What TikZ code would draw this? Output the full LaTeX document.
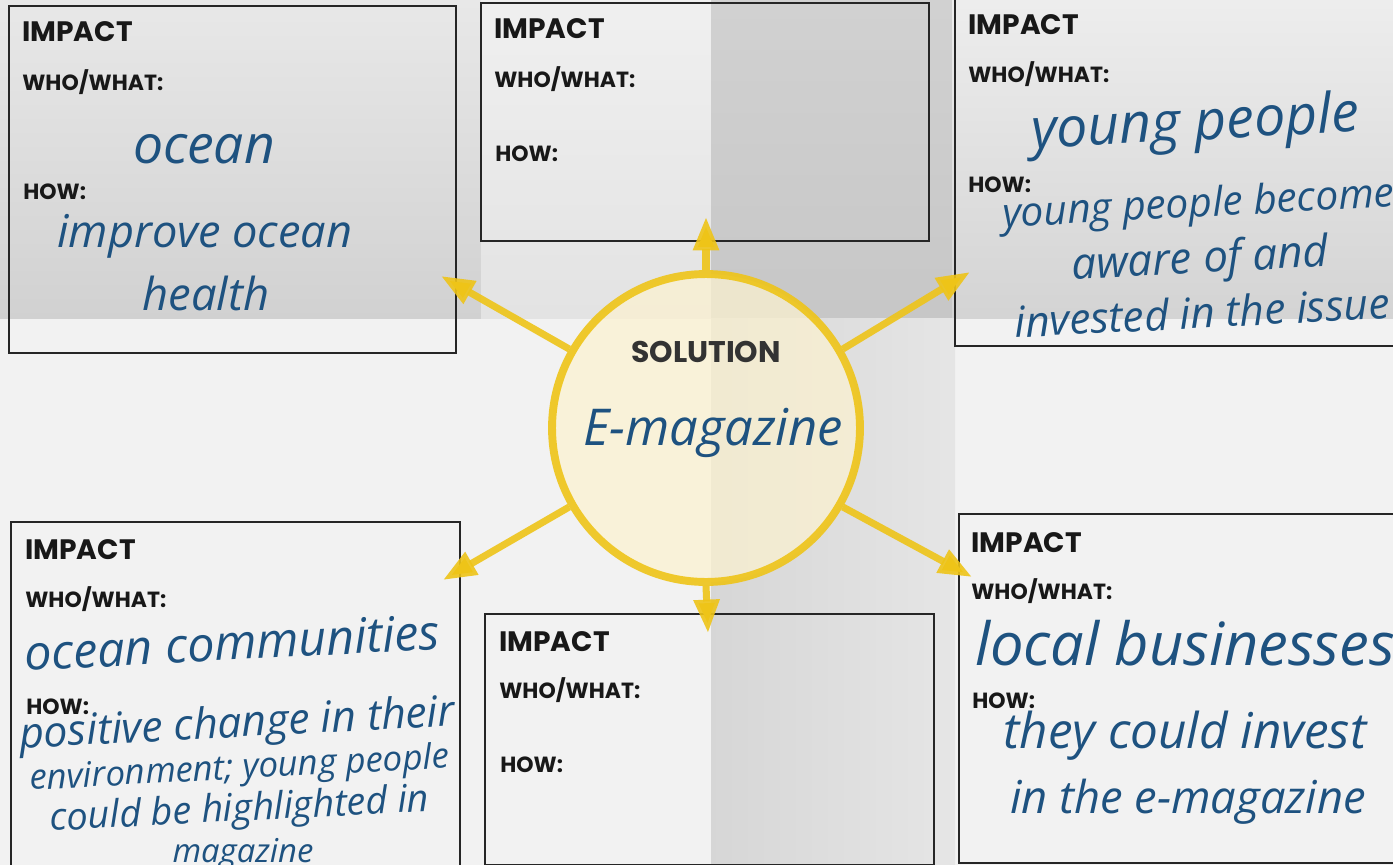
\documentclass[tikz,border=0pt]{standalone}
\usepackage{fontspec}
\setmainfont{Poppins}
\newfontfamily\handfont{Open Sans}
\usepackage{tikz}
\usetikzlibrary{positioning,arrows.meta}

\definecolor{ink}{RGB}{30,82,128}
\definecolor{gold}{RGB}{238,196,24}
\definecolor{paleyellow}{RGB}{252,242,208}
\definecolor{labelgray}{RGB}{24,24,24}

% handwritten answer, scaled to the width it takes on the sheet
\newcommand{\hw}[2]{\resizebox{#1}{!}{\handfont\itshape #2}}

\begin{document}
\begin{tikzpicture}[x=0.02cm, y=-0.02cm,
  impactbox/.style={draw=black!85, line width=1.1pt, inner sep=0, anchor=north west},
  bigtitle/.style={font=\fontsize{16}{16}\selectfont\bfseries, text=labelgray, anchor=base west, inner sep=0},
  smalltitle/.style={font=\fontsize{12.5}{12.5}\selectfont\bfseries, text=labelgray, anchor=base west, inner sep=0},
  answer/.style={text=ink, anchor=base, inner sep=0},
  ray/.style={draw=gold, draw opacity=0.9, line width=4pt, -{Triangle[width=14pt,length=19pt]}}]

\useasboundingbox (0,0) rectangle (1393,865);
\clip (0,0) rectangle (1393,865);

% paper background with its folds
\fill[black!5] (0,0) rectangle (1393,865);
\shade[top color=black!9, bottom color=black!18] (0,0) rectangle (481,318);
\shade[top color=black!6, bottom color=black!11] (481,0) rectangle (711,318);
\shade[top color=black!18, bottom color=black!22] (711,0) rectangle (952,318);
\shade[top color=black!7, bottom color=black!17] (952,0) rectangle (1393,318);
\shade[left color=black!16, right color=black!10] (711,318) rectangle (955,865);

% impact boxes
\node[impactbox, minimum width=8.94cm, minimum height=6.94cm] (tl) at (8,5) {};
\node[impactbox, minimum width=8.96cm, minimum height=4.76cm] (tc) at (480,2) {};
\node[impactbox, minimum width=9.4cm, minimum height=6.94cm] (tr) at (954,-2) {};
\node[impactbox, minimum width=8.98cm, minimum height=7.2cm] (bl) at (10,521) {};
\node[impactbox, minimum width=8.98cm, minimum height=5.02cm] (bc) at (484,613) {};
\node[impactbox, minimum width=9.4cm, minimum height=6.98cm] (br) at (958,513) {};

% top left
\node[bigtitle] (tlimp) at (22,42) {IMPACT};
\node[smalltitle] (tlwho) at (22,91) {WHO/WHAT:};
\node[smalltitle] (tlhow) at (23,199) {HOW:};
\node[answer] (tlwhoa) at (204,163) {\hw{2.84cm}{ocean}};
\node[answer] (tlhowa) at (205,247) {\hw{5.9cm}{improve ocean}};
\node[answer] (tlhowb) at (206,310) {\hw{2.54cm}{health}};

% top centre
\node[bigtitle] (tcimp) at (494,39) {IMPACT};
\node[smalltitle] (tcwho) at (494,88) {WHO/WHAT:};
\node[smalltitle] (tchow) at (495,161) {HOW:};

% top right
\node[bigtitle] (trimp) at (968,35) {IMPACT};
\node[smalltitle] (trwho) at (968,83) {WHO/WHAT:};
\node[smalltitle] (trhow) at (968,193) {HOW:};
\node[answer, rotate=3] (trwhoa) at (1196,140) {\hw{6.56cm}{young people}};
\node[answer, rotate=3] (trhowa) at (1199,217) {\hw{7.84cm}{young people become}};
\node[answer, rotate=3] (trhowb) at (1201,273) {\hw{5.14cm}{aware of and}};
\node[answer, rotate=3] (trhowc) at (1203,328) {\hw{7.5cm}{invested in the issue}};

% bottom left
\node[bigtitle] (blimp) at (25,559) {IMPACT};
\node[smalltitle] (blwho) at (25,607) {WHO/WHAT:};
\node[smalltitle] (blhow) at (26,714) {HOW:};
\node[answer, rotate=3] (blwhoa) at (233,660) {\hw{8.32cm}{ocean communities}};
\node[answer, rotate=3] (blhowa) at (238,737) {\hw{8.72cm}{positive change in their}};
\node[answer, rotate=3] (blhowb) at (240,779) {\hw{8.4cm}{environment; young people}};
\node[answer, rotate=3] (blhowc) at (240,821) {\hw{7.6cm}{could be highlighted in}};
\node[answer] (blhowd) at (243,862) {\hw{2.82cm}{magazine}};

% bottom centre
\node[bigtitle] (bcimp) at (499,651) {IMPACT};
\node[smalltitle] (bcwho) at (499,698) {WHO/WHAT:};
\node[smalltitle] (bchow) at (500,772) {HOW:};

% bottom right
\node[bigtitle] (brimp) at (971,552) {IMPACT};
\node[smalltitle] (brwho) at (971,599) {WHO/WHAT:};
\node[smalltitle] (brhow) at (972,708) {HOW:};
\node[answer] (brwhoa) at (1185,665) {\hw{8.4cm}{local businesses}};
\node[answer] (brhowa) at (1185,748) {\hw{7.26cm}{they could invest}};
\node[answer] (brhowb) at (1188,813) {\hw{7.12cm}{in the e-magazine}};

% solution circle
\node[circle, draw=gold, draw opacity=0.9, line width=4.5pt, fill=paleyellow, fill opacity=0.72,
      minimum size=6.16cm, inner sep=0] (sol) at (706,428) {};
\node[font=\fontsize{17}{17}\selectfont\bfseries, text=black!80, anchor=base, inner sep=0] (soltitle) at (706,362) {SOLUTION};
\node[answer] (solanswer) at (713,445) {\hw{5.2cm}{E-magazine}};

% arrow tips
\coordinate (tipul) at (441,276);
\coordinate (tipu) at (706,217);
\coordinate (tipur) at (970,272);
\coordinate (tipll) at (443,580);
\coordinate (tipd) at (708,633);
\coordinate (tiplr) at (972,577);

\draw[ray] (sol.150) -- (tipul);
\draw[ray] (sol.90) -- (tipu);
\draw[ray] (sol.30) -- (tipur);
\draw[ray] (sol.210) -- (tipll);
\draw[ray] (sol.270) -- (tipd);
\draw[ray] (sol.330) -- (tiplr);
\end{tikzpicture}
\end{document}
